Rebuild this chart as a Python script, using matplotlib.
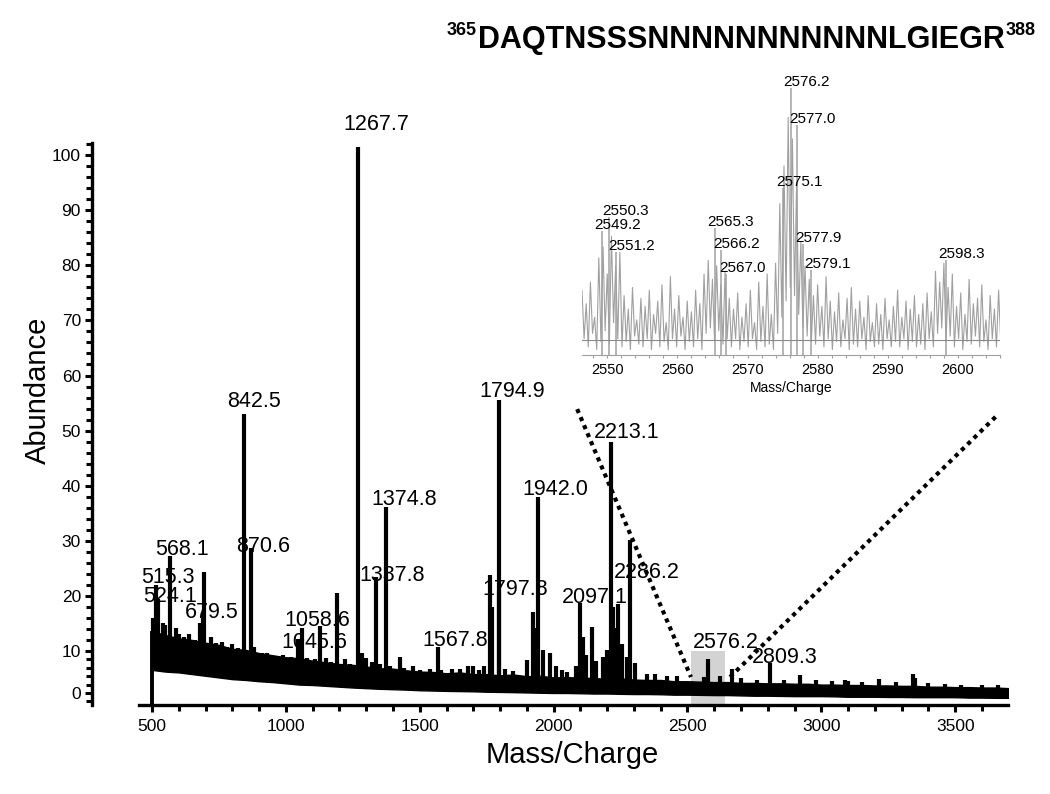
import numpy as np
import matplotlib
matplotlib.use("Agg")
import matplotlib.pyplot as plt
from matplotlib.patches import Rectangle
from matplotlib.ticker import MultipleLocator

plt.rcParams['font.family'] = ['Liberation Sans', 'DejaVu Sans']

# ---------------- data ----------------
title_seq = "DAQTNSSSNNNNNNNNNNNLGIEGR"
title_start = "365"
title_end = "388"

# baseline/noise band of the full spectrum (sampled every 50 m/z from 500 to 3700)
env_mz = np.arange(500, 3701, 50)
env_upper = [13.6, 12.9, 12.3, 12.0, 11.5, 11.1, 10.4, 10.2, 9.5, 9.0,
             8.5, 8.3, 7.7, 7.3, 6.9, 6.7, 6.3, 5.9, 5.8, 5.4,
             5.1, 5.0, 4.7, 4.9, 4.5, 4.5, 4.2, 4.4, 4.0, 4.1,
             3.7, 3.8, 3.6, 3.6, 3.3, 3.5, 3.2, 3.1, 3.1, 2.8,
             2.8, 2.7, 2.6, 2.6, 2.4, 2.4, 2.3, 2.3, 2.2, 2.2,
             2.0, 2.0, 1.9, 1.9, 1.8, 1.8, 1.7, 1.7, 1.5, 1.5,
             1.4, 1.4, 1.3, 1.3, 1.15]
env_lower = [5.5, 5.1, 4.9, 4.5, 4.1, 3.7, 3.3, 3.1, 2.8, 2.6,
             2.3, 2.0, 1.9, 1.7, 1.5, 1.3, 1.15, 1.0, 0.9, 0.8,
             0.65, 0.58, 0.5, 0.45, 0.4, 0.3, 0.25, 0.2, 0.13, 0.06,
             0.0, 0.0, -0.06, -0.13, -0.13, -0.2, -0.25, -0.25, -0.3, -0.4,
             -0.4, -0.45, -0.5, -0.5, -0.58, -0.65, -0.65, -0.7, -0.75, -0.75,
             -0.75, -0.8, -0.9, -0.9, -0.9, -0.95, -0.95, -1.0, -1.0, -1.0,
             -1.0, -1.1, -1.1, -1.15, -1.15]

# unlabeled peaks of the full spectrum
minor_mz = [505, 510, 540, 548, 590, 600, 620, 640, 660, 690, 695, 720, 740, 762, 780,
            800, 820, 880, 910, 930, 960, 990, 1004, 1020, 1080, 1110, 1127, 1150,
            1170, 1190, 1220, 1240, 1283, 1300, 1320, 1350, 1390, 1426, 1440, 1475,
            1500, 1540, 1580, 1620, 1650, 1680, 1700, 1720, 1740, 1763, 1770, 1820,
            1850, 1900, 1923, 1930, 1960, 1987, 2010, 2030, 2050, 2085, 2110, 2120,
            2143, 2160, 2185, 2200, 2222, 2230, 2241, 2255, 2274, 2304, 2350, 2380,
            2423, 2460, 2560, 2620, 2667, 2700, 2760, 2860, 2920, 2980, 3040, 3090,
            3100, 3150, 3216, 3280, 3343, 3350, 3400, 3460, 3520, 3600, 3660]
minor_int = [16.0, 14.1, 15.1, 14.7, 14.1, 13.0, 12.5, 13.1, 12.0, 16.0, 24.3, 12.6, 11.5, 11.7, 10.8,
             11.2, 10.5, 10.7, 9.5, 9.5, 8.3, 9.0, 8.3, 8.5, 8.3, 8.0, 14.6, 8.3,
             7.5, 20.5, 8.0, 7.0, 9.5, 8.3, 7.5, 7.0, 6.5, 8.6, 6.0, 6.4,
             5.5, 5.8, 5.5, 5.8, 5.8, 6.4, 6.4, 5.5, 6.4, 23.8, 18.0, 5.8,
             5.2, 7.8, 17.0, 14.1, 10.2, 9.6, 6.4, 5.5, 5.1, 6.4, 12.5, 9.0,
             14.4, 7.7, 8.6, 10.2, 18.0, 14.1, 18.5, 11.2, 8.6, 7.2, 4.5, 4.5,
             4.1, 4.0, 3.8, 4.0, 5.8, 3.5, 3.2, 3.2, 4.4, 3.0, 2.8, 3.1,
             2.8, 2.6, 3.3, 2.5, 4.5, 3.6, 2.3, 2.2, 2.0, 1.9, 1.8]

# labeled peaks of the full spectrum
label_mz = [515.3, 524.1, 568.1, 679.5, 842.5, 870.6, 1045.6, 1058.6, 1267.7, 1337.8,
            1374.8, 1567.8, 1794.9, 1797.8, 1942.0, 2097.1, 2213.1, 2286.2, 2576.2, 2809.3]
label_int = [21.9, 19.5, 27.3, 15.1, 53.1, 28.7, 12.1, 14.1, 101.5, 23.4,
             36.1, 10.7, 55.6, 21.0, 38.0, 18.7, 48.0, 30.2, 8.0, 7.2]

# zoomed m/z window shown in the inset
zoom_lo, zoom_hi = 2513, 2640

# inset: labeled peaks (relative intensity)
inset_mz = [2549.2, 2550.3, 2551.2, 2565.3, 2566.2, 2567.0, 2575.1, 2576.2,
            2577.0, 2577.9, 2579.1, 2598.3]
inset_int = [46, 51, 38, 47, 39, 30, 62, 99, 85, 41, 31.5, 35]

# inset: profile noise, sampled every 0.3 m/z from 2546.4
inset_noise_start, inset_noise_step = 2546.4, 0.3
inset_noise = [24, 6, 19, 3, 27, 8, 14, 2, 36, 5,
               40, 9, 30, 4, 44, 12, 33, 6, 38, 3,
               22, 5, 17, 2, 25, 7, 13, 4, 21, 3,
               18, 6, 24, 2, 15, 8, 20, 3, 26, 5,
               12, 2, 29, 6, 17, 3, 22, 7, 14, 2,
               20, 5, 16, 3, 24, 6, 19, 2, 30, 8,
               35, 10, 28, 5, 33, 9, 26, 4, 31, 6,
               21, 3, 17, 6, 23, 2, 14, 5, 19, 3,
               24, 6, 12, 2, 27, 5, 18, 3, 30, 4,
               15, 2, 34, 8, 56, 14, 70, 20, 88, 25,
               80, 22, 64, 15, 42, 10, 33, 7, 28, 5,
               22, 4, 26, 7, 18, 3, 29, 6, 20, 2,
               16, 5, 23, 3, 13, 6, 21, 2, 25, 4,
               17, 3, 20, 6, 14, 2, 22, 5, 12, 3,
               19, 4, 15, 2, 21, 6, 13, 3, 18, 5,
               24, 3, 14, 6, 20, 2, 17, 5, 22, 3,
               15, 4, 19, 2, 23, 6, 16, 3, 31, 8,
               27, 10, 34, 5, 25, 7, 30, 3, 18, 6,
               23, 2, 15, 5, 28, 4, 19, 7, 21, 3,
               26, 5, 13, 2, 22, 6, 17, 3, 24, 5]
inset_baseline = 5.5

# ---------------- figure ----------------
W, H = 1050, 794
fig = plt.figure(figsize=(W / 100, H / 100), dpi=100)


def fx(px):
    return px / W


def fy(py):
    return 1 - py / H


PX = 0.72  # points per pixel

# y axis of the original is compressed between 0 and 10
K = 0.762


def y_fwd(v):
    v = np.asarray(v, dtype=float)
    return np.where(v < 10, v * K, 10 * K + (v - 10))


def y_inv(u):
    u = np.asarray(u, dtype=float)
    return np.where(u < 10 * K, u / K, u - 10 * K + 10)


# main axes
ax = fig.add_axes([fx(138.6), fy(705), fx(1008) - fx(138.6), fy(143) - fy(705)])
ax.set_yscale('function', functions=(y_fwd, y_inv))
ax.set_xlim(450, 3697)
ax.set_ylim(-2.86, 102.2)
ymin = ax.get_ylim()[0]

for s in ['top', 'right']:
    ax.spines[s].set_visible(False)
for s in ['left', 'bottom']:
    ax.spines[s].set_linewidth(2.4)
ax.spines['left'].set_position(('outward', 46.6 * PX))

ax.xaxis.set_major_locator(MultipleLocator(500))
ax.xaxis.set_minor_locator(MultipleLocator(100))
ax.yaxis.set_major_locator(MultipleLocator(10))
ax.yaxis.set_minor_locator(MultipleLocator(2))
ax.tick_params(axis='both', which='major', direction='out', width=2.2, length=5,
               labelsize=12.5, pad=5)
ax.tick_params(axis='both', which='minor', direction='out', width=2.2, length=4)
ax.tick_params(axis='y', which='major', pad=3)

# zoom window box
ax.add_patch(Rectangle((zoom_lo, ymin), zoom_hi - zoom_lo, 10.0 - ymin,
                       facecolor='#d3d3d3', edgecolor='none', zorder=1))

# noise band
ax.fill_between(env_mz, env_lower, env_upper, color='black', lw=1.0, zorder=3)
ax.vlines(env_mz[0], ymin, env_upper[0], color='black', lw=2.8, zorder=3)

# peaks
all_mz = list(minor_mz) + list(label_mz)
all_int = list(minor_int) + list(label_int)
bases = np.interp(all_mz, env_mz, env_lower)
ax.vlines(all_mz, bases, all_int, color='black', lw=3.0, zorder=4)

# peak labels (offsets in pixels: right, up)
default_off = (16, 7)
label_off = {515.3: (12, 8), 524.1: (12, 2), 568.1: (12, 6), 679.5: (12, 10),
             842.5: (10, 12), 870.6: (12, 1), 1045.6: (16, -3), 1058.6: (16, 8),
             1267.7: (19, 22), 1337.8: (16, 2), 1374.8: (18, 8), 1567.8: (17, 7),
             1794.9: (13, 8), 1797.8: (16, 1), 1942.0: (17, 7), 2097.1: (15, 6),
             2213.1: (16, 9), 2286.2: (17, -33), 2576.2: (18, 17), 2809.3: (14, 5)}
for m, h in zip(label_mz, label_int):
    dx, dy = label_off.get(m, default_off)
    ax.annotate(f"{m:.1f}", (m, h), xytext=(dx * PX, dy * PX), textcoords='offset points',
                ha='center', va='center', fontsize=15.5, zorder=3.5)

# dotted connector lines toward the inset
dot = dict(color='black', lw=3.0, linestyle=(0, (1, 1.1)), clip_on=False, zorder=5)
ax.plot([2088, zoom_lo], [53.9, 3.8], **dot)
ax.plot([zoom_hi + 19, 3657], [3.8, 52.8], **dot)

# axis labels
fig.text(fx(38), fy(390), 'Abundance', rotation=90, ha='center', va='center', fontsize=21)
fig.text(fx(572), fy(755), 'Mass/Charge', ha='center', va='center', fontsize=21)

# ---------------- inset ----------------
ins = fig.add_axes([fx(582), fy(355), fx(1000) - fx(582), fy(80) - fy(355)])
ins.set_xlim(2546.4, 2606.0)
ins.set_ylim(0, 101.8)
noise_x = inset_noise_start + inset_noise_step * np.arange(len(inset_noise))
ins.plot(noise_x, inset_noise, color='#a0a0a0', lw=0.8, zorder=2)
ins.vlines(inset_mz, 0, inset_int, color='#a0a0a0', lw=1.1, zorder=2)
ins.axhline(inset_baseline, color='#8a8a8a', lw=0.8, zorder=3)
for s in ['top', 'right', 'left']:
    ins.spines[s].set_visible(False)
ins.spines['bottom'].set_color('#a0a0a0')
ins.spines['bottom'].set_linewidth(0.8)
ins.set_yticks([])
ins.xaxis.set_major_locator(MultipleLocator(10))
ins.xaxis.set_minor_locator(MultipleLocator(2))
ins.tick_params(axis='x', which='both', color='#a0a0a0', length=2.5, width=0.8,
                labelsize=10.5, pad=3)
ins.set_xlabel('Mass/Charge', fontsize=10, labelpad=3)
ins.patch.set_alpha(0)
for m, h in zip(inset_mz, inset_int):
    ins.annotate(f"{m:.1f}", (m, h), xytext=(16 * PX, 6 * PX), textcoords='offset points',
                 ha='center', va='center', fontsize=11)

# ---------------- title ----------------
tmain = fig.text(fx(741.5), fy(48), title_seq, ha='center', va='baseline',
                 fontsize=22, fontweight='bold')
fig.canvas.draw()
r = fig.canvas.get_renderer()
bb = tmain.get_window_extent(renderer=r)
top_fig = fy(22)
fig.text(bb.x0 / W - 0.001, top_fig, title_start, ha='right', va='top',
         fontsize=13, fontweight='bold')
fig.text(bb.x1 / W + 0.001, top_fig, title_end, ha='left', va='top',
         fontsize=13, fontweight='bold')

fig.savefig('out.png', dpi=100)
